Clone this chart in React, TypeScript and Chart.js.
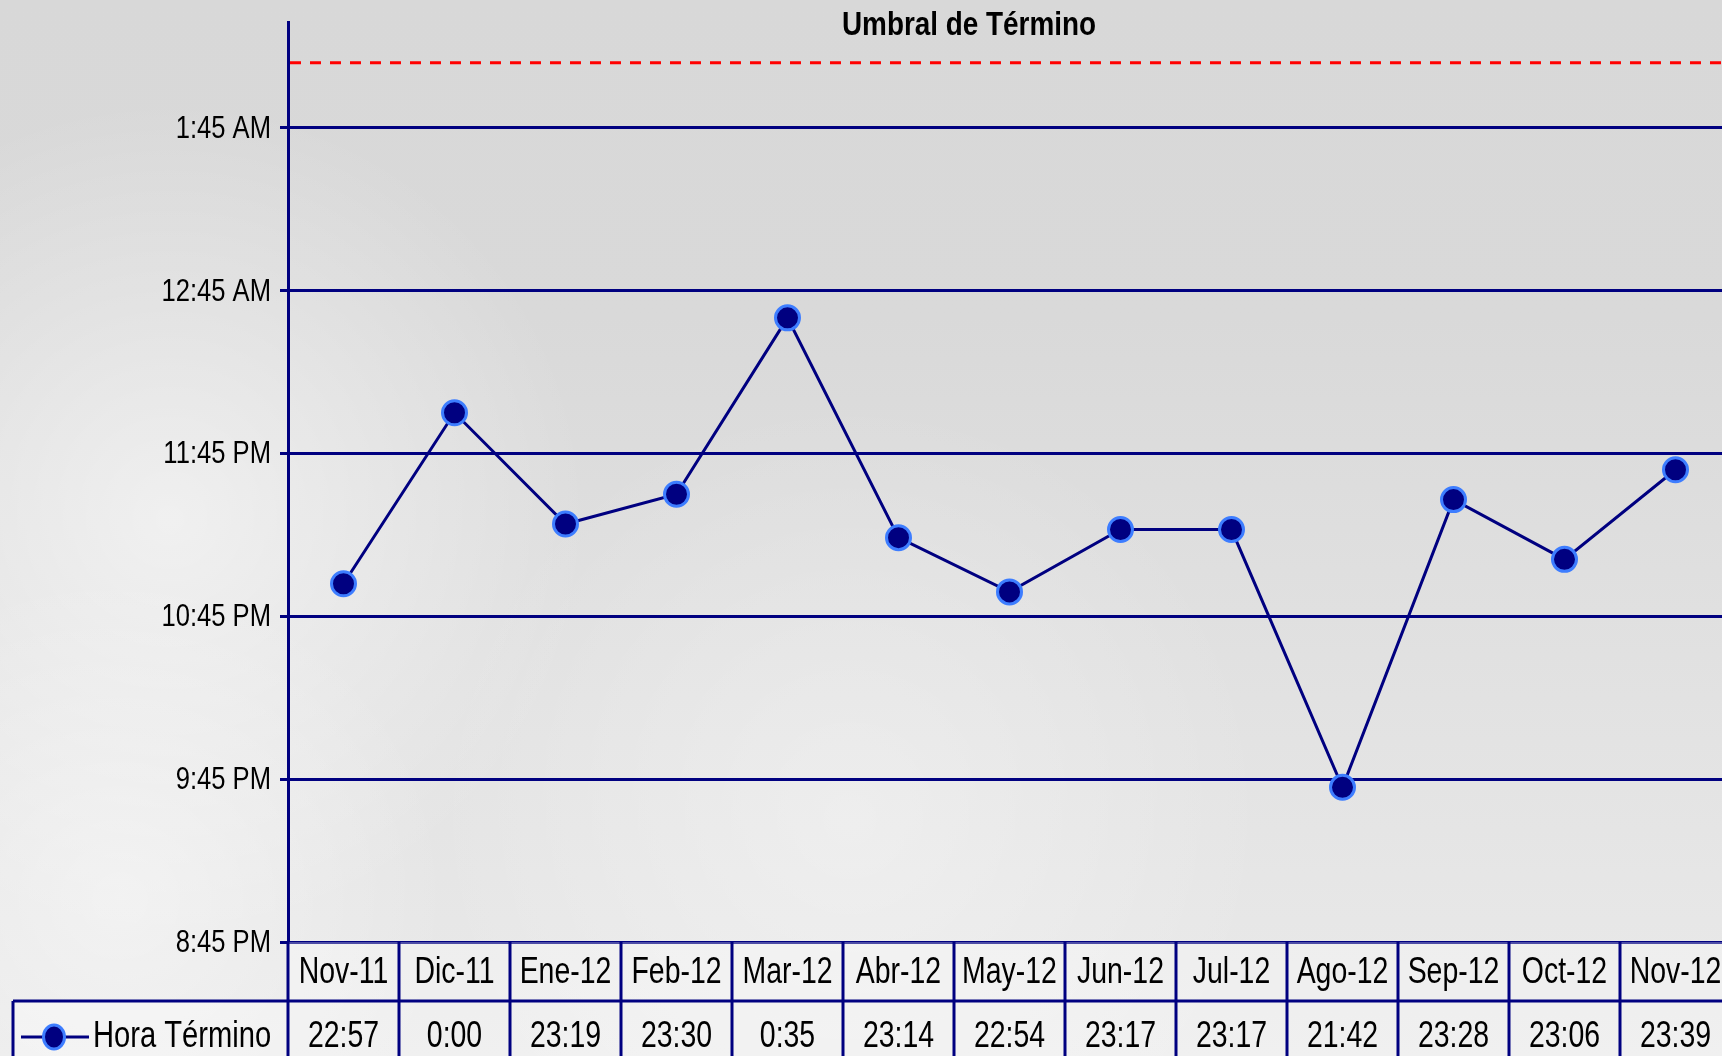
import React, { useEffect, useRef } from "react";
import { Chart, registerables } from "chart.js";

Chart.register(...registerables);

// ---- data ----
const CATEGORIES = ["Nov-11", "Dic-11", "Ene-12", "Feb-12", "Mar-12", "Abr-12", "May-12", "Jun-12", "Jul-12", "Ago-12", "Sep-12", "Oct-12", "Nov-12"];
const HORA_TERMINO_LABELS = ["22:57", "0:00", "23:19", "23:30", "0:35", "23:14", "22:54", "23:17", "23:17", "21:42", "23:28", "23:06", "23:39"];
// hours counted from the first evening's midnight (times after midnight are +24)
const HORA_TERMINO = [22.95, 24.0, 23.317, 23.5, 24.583, 23.233, 22.9, 23.283, 23.283, 21.7, 23.467, 23.1, 23.65];
const Y_TICK_VALUES = [20.75, 21.75, 22.75, 23.75, 24.75, 25.75];
const Y_TICK_LABELS = ["8:45 PM", "9:45 PM", "10:45 PM", "11:45 PM", "12:45 AM", "1:45 AM"];
const Y_MIN = 20.75;
const Y_MAX = 26.4;
const UMBRAL = 26.15;
const SERIES_NAME = "Hora Término";
const TITLE = "Umbral de Término";

const FONT = "'Liberation Sans', Arial, sans-serif";
const NAVY = "#000080";
const MARKER_EDGE = "#3d7dff";

function squeezedText(ctx: any, text: string, x: number, y: number, font: string, align: string, sx: number) {
  ctx.save();
  ctx.translate(x, y);
  ctx.scale(sx, 1);
  ctx.font = font;
  ctx.textAlign = align;
  ctx.textBaseline = "middle";
  ctx.fillStyle = "#000";
  ctx.fillText(text, 0, 0);
  ctx.restore();
}

export default function App() {
  const ref = useRef<HTMLCanvasElement | null>(null);

  useEffect(() => {
    const canvas = ref.current;
    if (!canvas) return;

    const bgPlugin = {
      id: "bg",
      beforeDraw(chart: any) {
        const { ctx, width, height } = chart;
        ctx.save();
        const g = ctx.createLinearGradient(0, 0, 0, height);
        g.addColorStop(0, "#d8d8d8");
        g.addColorStop(0.3, "#d9d9d9");
        g.addColorStop(0.7, "#e3e3e3");
        g.addColorStop(1, "#eaeaea");
        ctx.fillStyle = g;
        ctx.fillRect(0, 0, width, height);
        const blobs = [
          { x: 170, y: 520, r: 420, a: 0.55 },
          { x: 120, y: 900, r: 330, a: 0.45 },
          { x: 850, y: 820, r: 420, a: 0.35 },
        ];
        for (const b of blobs) {
          const rg = ctx.createRadialGradient(b.x, b.y, 0, b.x, b.y, b.r);
          rg.addColorStop(0, `rgba(255,255,255,${b.a})`);
          rg.addColorStop(1, "rgba(255,255,255,0)");
          ctx.fillStyle = rg;
          ctx.fillRect(0, 0, width, height);
        }
        ctx.restore();
      },
    };

    const umbralPlugin = {
      id: "umbral",
      beforeDatasetsDraw(chart: any) {
        const { ctx, chartArea } = chart;
        const y = chart.scales.y.getPixelForValue(UMBRAL);
        ctx.save();
        ctx.strokeStyle = "#ff0000";
        ctx.lineWidth = 3;
        ctx.setLineDash([11, 9]);
        ctx.beginPath();
        ctx.moveTo(chartArea.left + 2, y);
        ctx.lineTo(chartArea.right, y);
        ctx.stroke();
        ctx.restore();
      },
    };

    const tablePlugin = {
      id: "table",
      afterDraw(chart: any) {
        const { ctx, chartArea, height } = chart;
        const xs = chart.scales.x;
        const ys = chart.scales.y;
        const n = CATEGORIES.length;
        const w = (chartArea.right - chartArea.left) / n;
        const top = chartArea.bottom;
        const mid = top + 59;
        const legendLeft = 13;
        ctx.save();

        // title
        squeezedText(ctx, TITLE, 969, 26, `bold 34px ${FONT}`, "center", 0.82);

        // y tick labels
        Y_TICK_VALUES.forEach((v, i) => {
          squeezedText(ctx, Y_TICK_LABELS[i], 271, ys.getPixelForValue(v) + 1, `32px ${FONT}`, "right", 0.8);
        });

        // cell fill
        ctx.fillStyle = "rgba(255,255,255,0.3)";
        ctx.fillRect(chartArea.left, top, chartArea.right - chartArea.left, height - top);
        ctx.fillRect(legendLeft, mid, chartArea.left - legendLeft, height - mid);

        ctx.strokeStyle = NAVY;
        ctx.lineWidth = 3;
        // vertical cell borders
        for (let i = 0; i <= n; i++) {
          const x = i < n ? xs.getPixelForValue(i) - w / 2 : xs.getPixelForValue(n - 1) + w / 2;
          ctx.beginPath();
          ctx.moveTo(x, top);
          ctx.lineTo(x, height);
          ctx.stroke();
        }
        // row separator
        ctx.beginPath();
        ctx.moveTo(legendLeft, mid);
        ctx.lineTo(chartArea.right, mid);
        ctx.stroke();
        // legend cell left border
        ctx.beginPath();
        ctx.moveTo(legendLeft, mid);
        ctx.lineTo(legendLeft, height);
        ctx.stroke();

        const rowY1 = (top + mid) / 2 + 2;
        const rowY2 = mid + 36;
        for (let i = 0; i < n; i++) {
          const cx = xs.getPixelForValue(i);
          squeezedText(ctx, CATEGORIES[i], cx, rowY1, `36px ${FONT}`, "center", 0.79);
          squeezedText(ctx, HORA_TERMINO_LABELS[i], cx, rowY2, `36px ${FONT}`, "center", 0.79);
        }
        // legend key
        ctx.strokeStyle = NAVY;
        ctx.beginPath();
        ctx.moveTo(21, rowY2);
        ctx.lineTo(89, rowY2);
        ctx.stroke();
        ctx.beginPath();
        ctx.ellipse(54, rowY2, 10.5, 12, 0, 0, Math.PI * 2);
        ctx.fillStyle = NAVY;
        ctx.fill();
        ctx.strokeStyle = MARKER_EDGE;
        ctx.stroke();
        squeezedText(ctx, SERIES_NAME, 93, rowY2, `36px ${FONT}`, "left", 0.81);
        ctx.restore();
      },
    };

    const chart = new Chart(canvas, {
      type: "line",
      data: {
        labels: CATEGORIES,
        datasets: [
          {
            label: SERIES_NAME,
            data: HORA_TERMINO,
            borderColor: NAVY,
            borderWidth: 3,
            backgroundColor: NAVY,
            pointBackgroundColor: NAVY,
            pointBorderColor: MARKER_EDGE,
            pointBorderWidth: 3,
            pointRadius: 12,
            pointHoverRadius: 12,
            tension: 0,
            fill: false,
          },
        ],
      },
      options: {
        animation: false,
        responsive: false,
        devicePixelRatio: 1,
        events: [],
        layout: { autoPadding: false, padding: { top: 22, left: 0, right: 0, bottom: 0 } },
        plugins: {
          legend: { display: false },
          title: { display: false },
          tooltip: { enabled: false },
        },
        scales: {
          x: {
            type: "category",
            offset: true,
            grid: { display: false },
            border: { display: false },
            ticks: { display: false },
            afterFit(scale: any) {
              scale.height = 114;
            },
          },
          y: {
            type: "linear",
            min: Y_MIN,
            max: Y_MAX,
            afterBuildTicks(scale: any) {
              scale.ticks = Y_TICK_VALUES.map((v) => ({ value: v }));
            },
            afterFit(scale: any) {
              scale.width = 288;
            },
            grid: {
              color: NAVY,
              lineWidth: 3,
              tickLength: 8,
              drawTicks: true,
              tickColor: NAVY,
              tickWidth: 3,
            },
            border: { display: true, color: NAVY, width: 3 },
            ticks: { display: false },
          },
        },
      },
      plugins: [bgPlugin, umbralPlugin, tablePlugin],
    } as any);

    return () => chart.destroy();
  }, []);

  return (
    <div style={{ position: "fixed", left: 0, top: 0, width: 1722, height: 1056, overflow: "hidden", background: "#e0e0e0" }}>
      <canvas ref={ref} width={1731} height={1056} style={{ display: "block", width: 1731, height: 1056 }} />
    </div>
  );
}
